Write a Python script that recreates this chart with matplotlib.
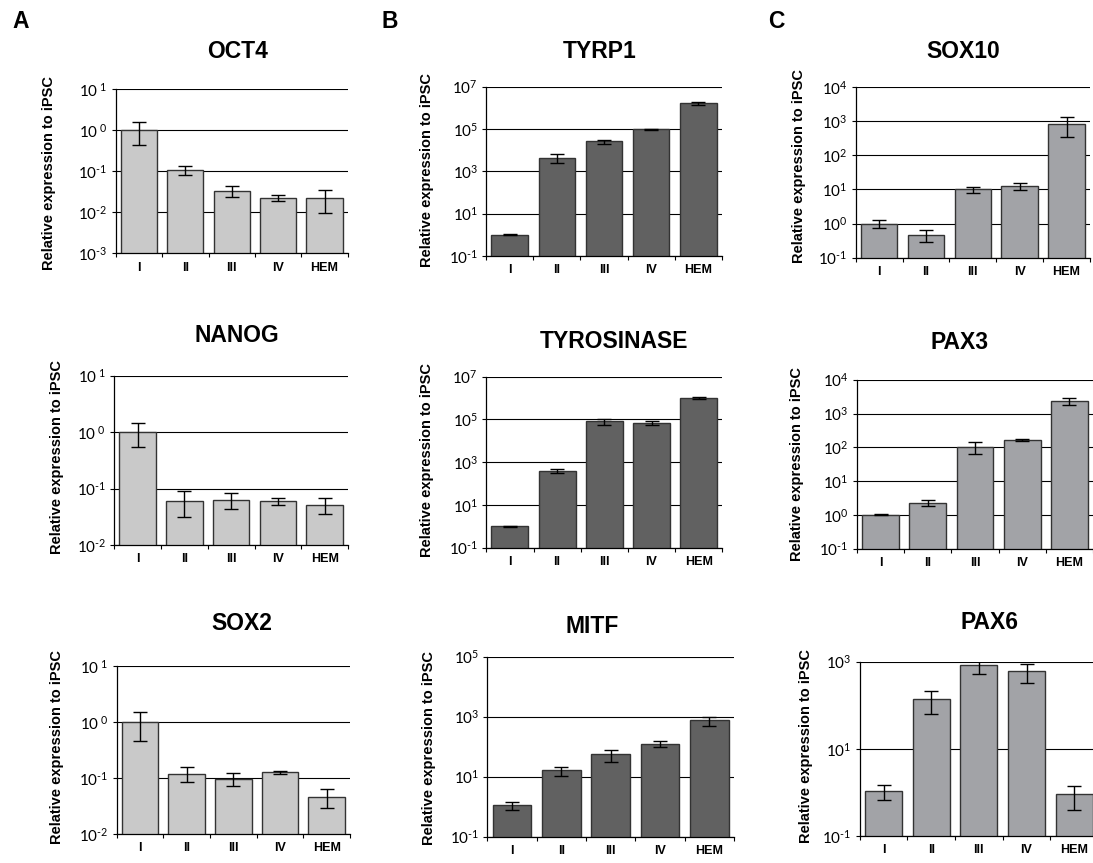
import numpy as np
import matplotlib.pyplot as plt
from matplotlib.ticker import FixedLocator, FuncFormatter, NullLocator

plt.rcParams['font.family'] = ['Liberation Sans', 'DejaVu Sans']
plt.rcParams['mathtext.fontset'] = 'custom'
plt.rcParams['mathtext.rm'] = 'Lato'
plt.rcParams['mathtext.it'] = 'Lato:italic'
plt.rcParams['mathtext.bf'] = 'Lato:bold'

# Data (relative expression to iPSC)
stages = ['I', 'II', 'III', 'IV', 'HEM']

oct4 = [1.0, 0.108, 0.034, 0.0224, 0.0224]
oct4_err = [0.56, 0.025, 0.010, 0.0035, 0.013]
nanog = [1.0, 0.060, 0.063, 0.060, 0.051]
nanog_err = [0.46, 0.029, 0.020, 0.0085, 0.016]
sox2 = [1.0, 0.120, 0.097, 0.126, 0.046]
sox2_err = [0.53, 0.035, 0.025, 0.010, 0.017]

tyrp1 = [1.0, 4430, 26100, 97000, 1.63e6]
tyrp1_err = [0.05, 1900, 5500, 3000, 0.2e6]
tyrosinase = [1.0, 408, 80600, 69800, 1.0e6]
tyrosinase_err = [0.02, 85, 24000, 15000, 0.14e6]
mitf = [1.14, 16.3, 55.5, 126, 755]
mitf_err = [0.35, 5.5, 24, 27, 250]

sox10 = [1.0, 0.466, 10.0, 12.5, 817]
sox10_err = [0.26, 0.18, 1.9, 2.8, 470]
pax3 = [1.0, 2.32, 102, 165, 2370]
pax3_err = [0.04, 0.45, 37, 15, 550]
pax6 = [1.1, 139, 824, 611, 0.90]
pax6_err = [0.42, 75, 300, 280, 0.5]

W, H = 1093, 863
col_a, col_b, col_c = '#c9c9c9', '#616161', '#a2a3a7'

# name, values, errors, colour, (lo exp, hi exp, step), axes box px (l, t, r, b),
# title centre px, ylabel centre px, spaced exponent labels
panels = [
    ('OCT4', oct4, oct4_err, col_a, (-3, 1, 1), (115.7, 89.3, 347.7, 253.3), (238, 51), (49, 173), True),
    ('NANOG', nanog, nanog_err, col_a, (-2, 1, 1), (114.3, 375.7, 348, 545), (237, 336), (57, 457), True),
    ('SOX2', sox2, sox2_err, col_a, (-2, 1, 1), (116.7, 666.3, 350, 834), (242, 623), (57, 747), True),
    ('TYRP1', tyrp1, tyrp1_err, col_b, (-1, 7, 2), (486.3, 86.7, 721.7, 256), (600, 52), (427, 170), False),
    ('TYROSINASE', tyrosinase, tyrosinase_err, col_b, (-1, 7, 2), (486.3, 376.7, 722.3, 547.7), (614, 341), (427, 460), False),
    ('MITF', mitf, mitf_err, col_b, (-1, 5, 2), (487.3, 656.7, 734, 836.7), (592, 626), (429, 748), False),
    ('SOX10', sox10, sox10_err, col_c, (-1, 4, 1), (855.7, 87, 1090, 257.7), (963, 51), (799, 166), False),
    ('PAX3', pax3, pax3_err, col_c, (-1, 4, 1), (857, 379.7, 1093, 548.7), (960, 342), (797, 464), False),
    ('PAX6', pax6, pax6_err, col_c, (-1, 3, 2), (859.7, 661.7, 1098, 836), (989, 622), (806, 746), False),
]


def exp_label(spaced):
    # Excel-style "10^n" labels with a short hyphen for negative exponents
    def fmt(v, pos):
        e = int(round(np.log10(v)))
        sign = r'\text{-}' if e < 0 else ''
        gap = r'\ ' if spaced and e >= 0 else ''
        return r'$\mathrm{10^{%s%s%d}}$' % (gap, sign, abs(e))
    return fmt


fig = plt.figure(figsize=(W / 100, H / 100), dpi=100)
x = np.arange(len(stages))

for name, vals, errs, color, (lo, hi, step), (l, t, r, b), (tx, ty), (lx, ly), spaced in panels:
    ax = fig.add_axes([l / W, 1 - b / H, (r - l) / W, (b - t) / H])
    ax.set_axisbelow(True)
    ax.bar(x, vals, width=0.78, color=color, edgecolor='#333333', linewidth=1.0,
           yerr=errs, capsize=5, error_kw=dict(ecolor='black', elinewidth=1.0, capthick=1.0))
    ax.set_yscale('log')
    ax.set_ylim(10.0 ** lo, 10.0 ** hi)
    ax.set_xlim(-0.5, len(stages) - 0.5)

    yt = [10.0 ** e for e in range(lo, hi + 1, step)]
    ax.yaxis.set_major_locator(FixedLocator(yt))
    ax.yaxis.set_minor_locator(NullLocator())
    ax.yaxis.set_major_formatter(FuncFormatter(exp_label(spaced)))
    ax.grid(axis='y', color='black', linewidth=0.8)

    # ticks between categories, labels centred under bars
    ax.set_xticks(np.arange(-0.5, len(stages)), [])
    ax.set_xticks(x, stages, minor=True)
    ax.tick_params(axis='x', which='major', direction='out', length=3, width=0.8)
    ax.tick_params(axis='x', which='minor', length=0, pad=6, labelsize=9)
    for lab in ax.get_xticklabels(minor=True):
        lab.set_fontweight('bold')
    ax.tick_params(axis='y', direction='out', length=3, width=0.8, pad=3, labelsize=11)

    for s in ['top', 'right']:
        ax.spines[s].set_visible(False)
    for s in ['left', 'bottom']:
        ax.spines[s].set_linewidth(0.9)

    fig.text(tx / W, 1 - ty / H, name, ha='center', va='center', fontsize=16.5, fontweight='bold')
    fig.text(lx / W, 1 - ly / H, 'Relative expression to iPSC', ha='center', va='center',
             rotation=90, fontsize=10.5, fontweight='bold')

for letter, px, py in [('A', 21, 22), ('B', 390, 22), ('C', 776, 22)]:
    fig.text(px / W, 1 - py / H, letter, ha='center', va='center', fontsize=16.5, fontweight='bold')

fig.savefig('out.png', dpi=100, facecolor='white')
